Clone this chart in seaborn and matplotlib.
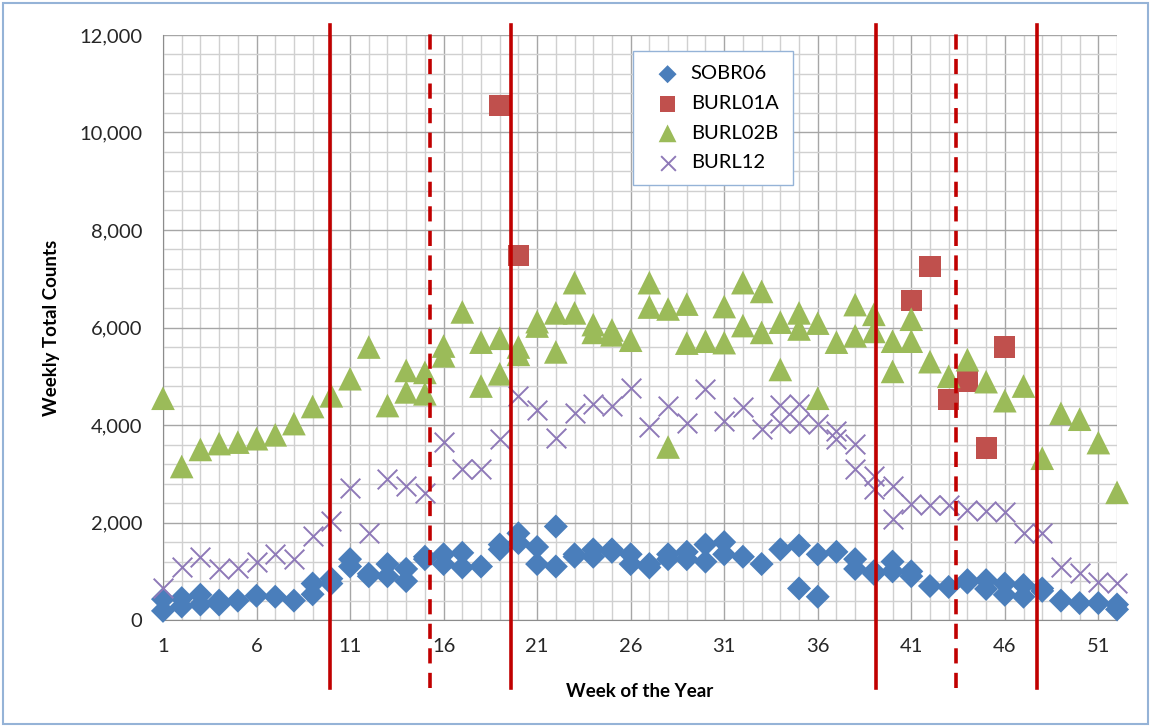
import matplotlib
matplotlib.use("Agg")
import matplotlib.pyplot as plt
import seaborn as sns
import pandas as pd
from matplotlib.ticker import MultipleLocator, FixedLocator, StrMethodFormatter
from matplotlib.patches import Rectangle

# weekly counts (two values for some weeks = two years of data)
sobr06_weeks = [1, 1, 2, 2, 3, 3, 4, 4, 5, 6, 7, 8, 9, 9, 10, 10, 11, 11, 12, 12,
                13, 13, 14, 14, 15, 15, 16, 16, 17, 17, 18, 19, 19, 20, 20, 21, 21,
                22, 22, 23, 23, 24, 24, 25, 25, 26, 26, 27, 27, 28, 28, 29, 29, 30, 30,
                31, 31, 32, 33, 34, 35, 35, 36, 36, 37, 38, 38, 39, 39, 40, 40, 41, 41,
                42, 43, 44, 44, 45, 45, 46, 46, 47, 47, 48, 48, 49, 50, 51, 52, 52]
sobr06_counts = [430, 190, 450, 280, 520, 320, 400, 320, 400, 500, 480, 400, 750, 530,
                 850, 750, 1250, 1100, 950, 900, 1150, 900, 1050, 800, 1300, 1250,
                 1350, 1150, 1380, 1080, 1100, 1550, 1450, 1780, 1580, 1500, 1150,
                 1920, 1100, 1350, 1300, 1450, 1300, 1450, 1400, 1350, 1150, 1150, 1080,
                 1350, 1250, 1400, 1250, 1550, 1200, 1600, 1350, 1300, 1150, 1450,
                 1530, 650, 1350, 480, 1400, 1250, 1050, 1000, 950, 1200, 1000, 1000,
                 900, 700, 680, 820, 770, 820, 640, 750, 520, 720, 480, 650, 600, 400,
                 350, 350, 320, 220]

burl01a_weeks = [19, 20, 41, 42, 43, 44, 45, 46]
burl01a_counts = [10550, 7480, 6550, 7250, 4530, 4900, 3530, 5600]

burl02b_weeks = [1, 2, 3, 4, 5, 6, 7, 8, 9, 10, 11, 12, 13, 14, 14, 15, 15, 16, 16, 17,
                 18, 18, 19, 19, 20, 20, 21, 21, 22, 22, 23, 23, 24, 24, 25, 25, 26,
                 27, 27, 28, 28, 29, 29, 30, 31, 31, 32, 32, 33, 33, 34, 34, 35, 35,
                 36, 36, 37, 38, 38, 39, 39, 40, 40, 41, 41, 42, 43, 44, 45, 46, 47,
                 48, 49, 50, 51, 52]
burl02b_counts = [4550, 3150, 3500, 3620, 3650, 3720, 3800, 4030, 4380, 4600, 4950,
                  5600, 4400, 5120, 4680, 5080, 4640, 5620, 5420, 6320, 5700, 4800,
                  5780, 5050, 5600, 5450, 6120, 6030, 6300, 5500, 6920, 6300, 6060,
                  5900, 5950, 5850, 5740, 6920, 6420, 6380, 3550, 6480, 5680, 5720,
                  6430, 5690, 6920, 6040, 6740, 5900, 6110, 5140, 6300, 5970, 6090,
                  4550, 5700, 6470, 5830, 6270, 5920, 5720, 5100, 6170, 5720, 5300,
                  5000, 5340, 4890, 4500, 4800, 3320, 4240, 4120, 3640, 2620]

burl12_weeks = [1, 2, 3, 4, 5, 6, 7, 8, 9, 10, 11, 12, 13, 14, 15, 16, 17, 18, 19, 20,
                21, 22, 23, 24, 25, 26, 27, 28, 29, 30, 31, 32, 33, 34, 34, 35, 35,
                36, 37, 37, 38, 38, 39, 39, 40, 40, 41, 42, 43, 44, 45, 46, 47, 48,
                49, 50, 51, 52]
burl12_counts = [650, 1080, 1290, 1040, 1060, 1190, 1350, 1260, 1730, 2030, 2700,
                 1780, 2900, 2750, 2600, 3650, 3100, 3100, 3720, 4600, 4300, 3740,
                 4250, 4430, 4390, 4750, 3960, 4390, 4050, 4730, 4090, 4360, 3910,
                 4410, 4050, 4430, 4050, 4030, 3880, 3720, 3620, 3100, 2960, 2680,
                 2750, 2080, 2380, 2360, 2360, 2260, 2240, 2220, 1780, 1790, 1090,
                 960, 790, 760]

# season boundaries (week of year)
solid_lines = [9.93, 19.6, 39.1, 47.7]
dashed_lines = [15.25, 43.4]

fig = plt.figure(figsize=(11.51, 7.27), dpi=100)
plt.rcParams['font.family'] = ['Lato', 'DejaVu Sans']
ax = fig.add_axes([0.1416, 0.147, 0.8289, 0.805])

sobr = pd.DataFrame({'week': sobr06_weeks, 'count': sobr06_counts})
b01 = pd.DataFrame({'week': burl01a_weeks, 'count': burl01a_counts})
b02 = pd.DataFrame({'week': burl02b_weeks, 'count': burl02b_counts})
b12 = pd.DataFrame({'week': burl12_weeks, 'count': burl12_counts})

sns.scatterplot(data=sobr, x='week', y='count', ax=ax, marker='D', s=150,
                color='#4a7ebb', edgecolor='none', label='SOBR06', zorder=3)
sns.scatterplot(data=b01, x='week', y='count', ax=ax, marker='s', s=230,
                color='#c0504d', edgecolor='none', label='BURL01A', zorder=3)
sns.scatterplot(data=b02, x='week', y='count', ax=ax, marker='^', s=290,
                color='#9bbb59', edgecolor='none', label='BURL02B', zorder=3)
sns.scatterplot(data=b12, x='week', y='count', ax=ax, marker='x', s=200,
                color='#8e79b8', linewidth=1.4, label='BURL12', zorder=3)
for coll in ax.collections:
    coll.set_clip_on(False)

for w in solid_lines:
    ax.axvline(w, ymin=-0.116, ymax=1.017, color='#c00000', lw=2.6,
               clip_on=False, zorder=4)
for w in dashed_lines:
    ax.axvline(w, ymin=-0.116, ymax=1.017, color='#c00000', lw=2.6,
               dashes=(4.2, 2.6), clip_on=False, zorder=4)

ax.set_xlim(1, 52)
ax.set_ylim(0, 12000)
ax.xaxis.set_major_locator(FixedLocator(list(range(1, 53, 5))))
ax.xaxis.set_minor_locator(MultipleLocator(1))
ax.yaxis.set_major_locator(MultipleLocator(2000))
ax.yaxis.set_minor_locator(MultipleLocator(400))
ax.yaxis.set_major_formatter(StrMethodFormatter('{x:,.0f}'))
ax.grid(which='major', color='#a6a6a6', lw=1.0, zorder=0)
ax.grid(which='minor', color='#d0d0d0', lw=1.0, zorder=0)
ax.set_axisbelow(True)
for side in ['top', 'right']:
    ax.spines[side].set_visible(False)
ax.spines['left'].set_color('#8c8c8c')
ax.spines['bottom'].set_color('#8c8c8c')
ax.tick_params(axis='both', which='both', length=0, labelsize=14.5)
ax.tick_params(axis='x', pad=13)
ax.tick_params(axis='y', pad=15)
for lab in ax.get_xticklabels() + ax.get_yticklabels():
    lab.set_color('#262626')

ax.set_xlabel('Week of the Year', fontsize=13.5, fontweight='bold', labelpad=20)
ax.set_ylabel('Weekly Total Counts', fontsize=13.5, fontweight='bold', labelpad=14)

leg = ax.legend(loc='upper left', bbox_to_anchor=(0.493, 0.972), fontsize=14.5,
                frameon=True, fancybox=False, borderpad=0.7, labelspacing=0.62,
                handletextpad=0.15, borderaxespad=0, markerscale=0.75)
leg.get_frame().set_edgecolor('#95b3d7')
leg.get_frame().set_linewidth(1.0)
leg.get_frame().set_alpha(1)

fig.patches.append(Rectangle((0.003, 0.004), 0.994, 0.992, transform=fig.transFigure,
                             fill=False, edgecolor='#95b3d7', lw=1.5))

fig.savefig('out.png', dpi=100)
